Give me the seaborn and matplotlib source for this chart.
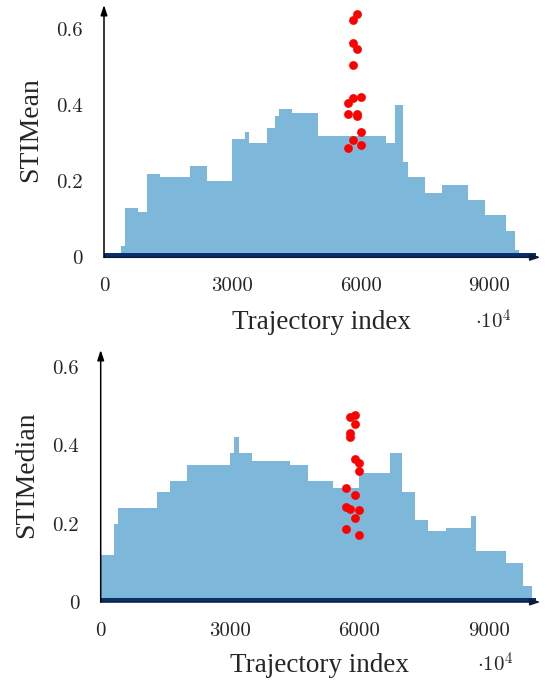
import numpy as np
import pandas as pd
import matplotlib
matplotlib.use("Agg")
import matplotlib.pyplot as plt
import seaborn as sns

# ---------------- data ----------------
# upper envelope of the trajectory density (step segments: start x, top y)
mean_env_x = [0, 400, 500, 800, 1000, 1300, 2000, 2350, 2950, 3300, 3400, 3800,
              4000, 4100, 4400, 5000, 6600, 6750, 7000, 7100, 7500, 7900, 8500,
              8850, 9400, 9550, 9700]
mean_env_y = [0.00, 0.03, 0.13, 0.12, 0.22, 0.21, 0.245, 0.205, 0.31, 0.33, 0.30,
              0.34, 0.37, 0.39, 0.375, 0.32, 0.30, 0.40, 0.25, 0.21, 0.17, 0.19,
              0.15, 0.11, 0.07, 0.025, 0.01]

median_env_x = [0, 300, 400, 1300, 1530, 2000, 2930, 3070, 3190, 3460, 4400, 4780,
                5320, 6000, 6640, 7000, 7250, 7570, 7950, 8600, 8700, 9330, 9730,
                10000]
median_env_y = [0.115, 0.205, 0.24, 0.28, 0.31, 0.35, 0.38, 0.415, 0.38, 0.362,
                0.35, 0.31, 0.29, 0.33, 0.375, 0.28, 0.21, 0.175, 0.19, 0.225,
                0.13, 0.10, 0.044, 0.01]

# highlighted trajectories (red)
mean_red_x = [5910, 5810, 5810, 5910, 5810, 6015, 5810, 5710, 5710, 5910, 5910,
              6015, 5810, 6015, 5710]
mean_red_y = [0.639, 0.623, 0.564, 0.548, 0.505, 0.422, 0.419, 0.405, 0.376,
              0.377, 0.371, 0.329, 0.308, 0.296, 0.286]

median_red_x = [5783, 5892, 5892, 5783, 5783, 5892, 5992, 5992, 5690, 5892, 5690,
                5783, 5992, 5892, 5690, 5992]
median_red_y = [0.472, 0.476, 0.455, 0.431, 0.421, 0.364, 0.354, 0.333, 0.291,
                0.272, 0.243, 0.238, 0.236, 0.214, 0.186, 0.171]

x_ticks = [0, 3000, 6000, 9000]
x_ticklabels = ["0", "3000", "6000", "9000"]
y_ticks = [0, 0.2, 0.4, 0.6]
y_ticklabels = ["0", "0.2", "0.4", "0.6"]
y_labels = ["STIMean", "STIMedian"]
x_label = "Trajectory index"

# ---------------- style ----------------
sns.set_style("white")
plt.rcParams["font.family"] = ["Liberation Serif", "DejaVu Serif"]
plt.rcParams["mathtext.fontset"] = "cm"

XW, YW = 100, 0.01
X_END = 10100


def cell_frame(env_x, env_y):
    xs, ys, ws = [], [], []
    for c in range(0, X_END, XW):
        idx = int(np.searchsorted(env_x, c, side="right")) - 1
        n = max(1, int(round(env_y[idx] / YW)))
        for k in range(n):
            xs.append(c + XW / 2)
            ys.append(k * YW + YW / 2)
            ws.append(3.0 if k == 0 else 1.0)
    return pd.DataFrame({"x": xs, "y": ys, "w": ws})


fig = plt.figure(figsize=(5.47, 6.85), dpi=100)
W, H = 547.0, 685.0

panels = [
    dict(left=104.0, right=540.4, top=5.0, bottom=257.3, ymax=0.663,
         env=(mean_env_x, mean_env_y), red=(mean_red_x, mean_red_y),
         ylab=y_labels[0], ylab_xy=(37.0, 130.0), xlab_y=328.5, xlab_x=322.0,
         mult_x=475.0),
    dict(left=100.7, right=540.4, top=350.0, bottom=602.0, ymax=0.643,
         env=(median_env_x, median_env_y), red=(median_red_x, median_red_y),
         ylab=y_labels[1], ylab_xy=(33.5, 475.0), xlab_y=672.0, xlab_x=320.0,
         mult_x=477.0),
]

xedges = np.arange(0, 10201, XW)
yedges = np.arange(0, 0.70 + 1e-9, YW)

for p in panels:
    ax = fig.add_axes([p["left"] / W, 1 - p["bottom"] / H,
                       (p["right"] - p["left"]) / W, (p["bottom"] - p["top"]) / H])
    df = cell_frame(*p["env"])
    sns.histplot(data=df, x="x", y="y", weights="w", bins=[xedges, yedges],
                 cmap="Blues", vmin=0, vmax=2.2, ax=ax, cbar=False)
    rx, ry = p["red"]
    sns.scatterplot(x=rx, y=ry, color="#ff0000", s=40, linewidth=0, ax=ax,
                    zorder=4)
    ax.set_xlim(0, 10200)
    ax.set_ylim(0, p["ymax"])
    ax.set_xticks(x_ticks)
    ax.set_xticklabels(x_ticklabels, fontfamily="cmr10", fontsize=15)
    ax.set_yticks(y_ticks)
    ax.set_yticklabels(y_ticklabels, fontfamily="cmr10", fontsize=15)
    ax.tick_params(axis="both", direction="out", length=7.5, width=0.8,
                   color="#b8b8b8")
    ax.tick_params(axis="y", pad=8)
    ax.tick_params(axis="x", pad=7)
    ax.set_xlabel("")
    ax.set_ylabel("")
    for s in ax.spines.values():
        s.set_visible(False)
    # axis arrows
    ax.annotate("", xy=(1, 0), xytext=(0, 0), xycoords="axes fraction",
                arrowprops=dict(arrowstyle="-|>,head_length=0.6,head_width=0.2",
                                color="#0b1d3a", lw=1.1, shrinkA=0, shrinkB=0),
                zorder=6, annotation_clip=False)
    ax.annotate("", xy=(0, 1), xytext=(0, 0), xycoords="axes fraction",
                arrowprops=dict(arrowstyle="-|>,head_length=0.6,head_width=0.2",
                                color="black", lw=1.1, shrinkA=0, shrinkB=0),
                zorder=6, annotation_clip=False)

    fig.text(p["xlab_x"] / W, 1 - p["xlab_y"] / H, x_label, ha="center",
             va="baseline", fontsize=19.5)
    fig.text(p["mult_x"] / W, 1 - p["xlab_y"] / H, r"$\cdot 10^{4}$", ha="left",
             va="baseline", fontsize=15)
    fig.text(p["ylab_xy"][0] / W, 1 - p["ylab_xy"][1] / H, p["ylab"],
             rotation=90, rotation_mode="anchor", ha="center", va="baseline",
             fontsize=20)

fig.savefig("out.png", dpi=100)
